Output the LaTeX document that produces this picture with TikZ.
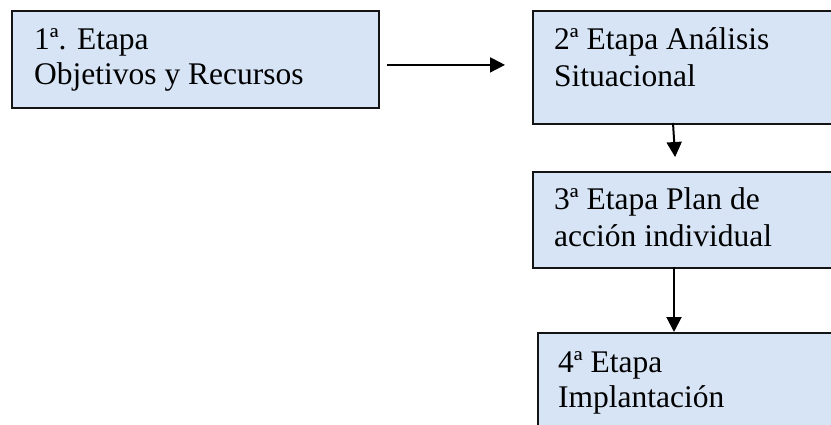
\documentclass[tikz,border=0pt]{standalone}
\usepackage{fontspec}
\setmainfont{Liberation Serif}
\usetikzlibrary{arrows.meta}
\definecolor{boxfill}{RGB}{214,228,245}
\definecolor{edge}{RGB}{20,20,20}
\tikzset{
  stage/.style={draw=edge, line width=1.8pt, fill=boxfill, rectangle, anchor=north west, inner sep=0pt},
  label/.style={anchor=base west, inner sep=0pt, font=\fontsize{31.5}{36}\selectfont, text=black},
  flow/.style={line width=2pt, draw=black, -{Triangle[length=15pt,width=15pt]}}
}
\begin{document}
\begin{tikzpicture}[x=1pt, y=-1pt]
  \useasboundingbox (0,0) rectangle (831,425);
  \clip (0,0) rectangle (831,425);
  % stage boxes
  \node[stage, minimum width=367pt, minimum height=97pt] (b1) at (11,10) {};
  \node[stage, minimum width=310pt, minimum height=113pt] (b2) at (532,10) {};
  \node[stage, minimum width=310pt, minimum height=96pt] (b3) at (532,171) {};
  \node[stage, minimum width=310pt, minimum height=110pt] (b4) at (537,332) {};
  % stage texts
  \node[label] (t1a) at (34,50) {1ª. Etapa};
  \node[label] (t1b) at (34,85) {Objetivos y Recursos};
  \node[label] (t2a) at (554,50) {2ª Etapa Análisis};
  \node[label] (t2b) at (554,87) {Situacional};
  \node[label] (t3a) at (554,210) {3ª Etapa Plan de};
  \node[label] (t3b) at (554,247) {acción individual};
  \node[label] (t4a) at (558,372) {4ª Etapa};
  \node[label] (t4b) at (558,407) {Implantación};
  % connectors
  \draw[flow, shorten <=7pt, shorten >=27pt] ([yshift=-5.5pt]b1.east) -- ([yshift=-5.5pt]b1.east -| b2.west);
  \coordinate (b2out) at (673,123);
  \coordinate (b3in) at (676,171);
  \draw[flow, shorten >=14pt] (b2out) -- (b3in);
  \coordinate (b3out) at (674,267);
  \draw[flow] (b3out) -- (b3out |- b4.north);
\end{tikzpicture}
\end{document}
